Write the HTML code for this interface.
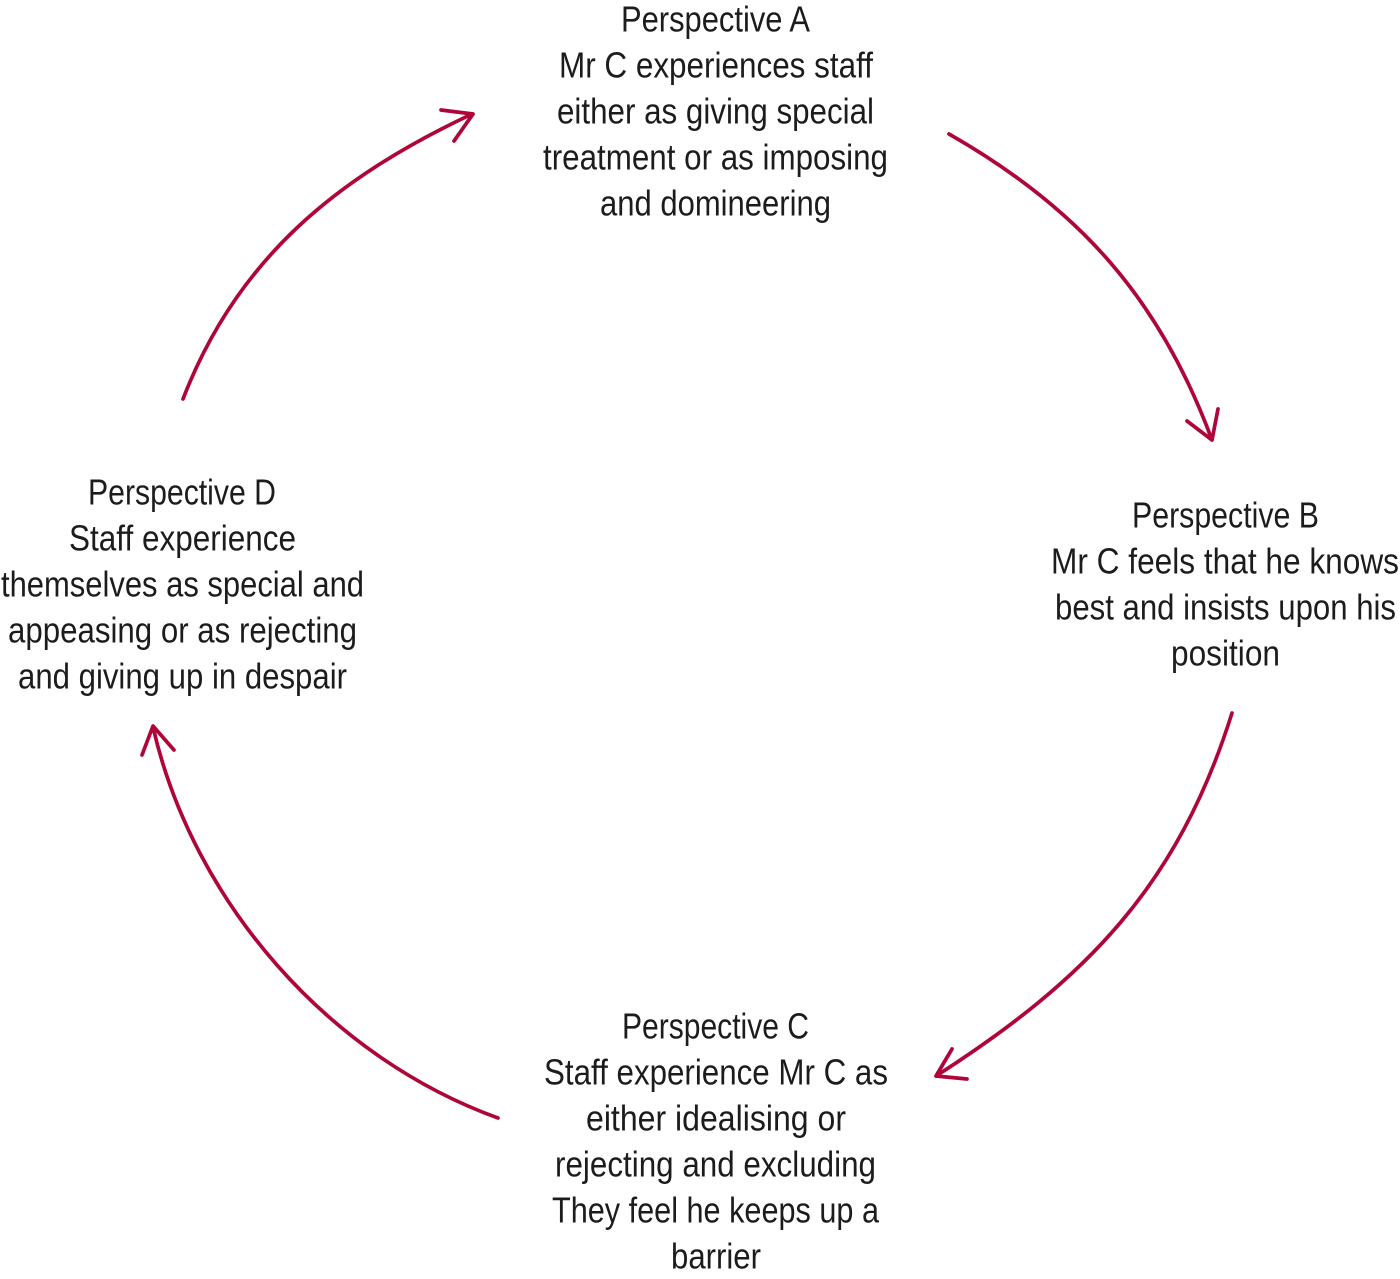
<!DOCTYPE html>
<html><head><meta charset="utf-8"><style>
html,body{margin:0;padding:0;background:#fff;width:1400px;height:1279px;overflow:hidden}
svg{display:block}
text{font-family:"Liberation Sans",sans-serif;font-size:36px;fill:#1c1c1c}
.l{fill:none;stroke:#b00538;stroke-width:3.7;stroke-linecap:round;stroke-linejoin:round}
</style></head><body>
<svg width="1400" height="1279" viewBox="0 0 1400 1279" xmlns="http://www.w3.org/2000/svg">
<text x="621" y="31.5" textLength="189" lengthAdjust="spacingAndGlyphs">Perspective A</text>
<text x="559" y="77.5" textLength="314" lengthAdjust="spacingAndGlyphs">Mr C experiences staff</text>
<text x="557" y="123.5" textLength="317" lengthAdjust="spacingAndGlyphs">either as giving special</text>
<text x="543" y="169.5" textLength="345" lengthAdjust="spacingAndGlyphs">treatment or as imposing</text>
<text x="600" y="215.5" textLength="231" lengthAdjust="spacingAndGlyphs">and domineering</text>

<text x="1132" y="527.5" textLength="187" lengthAdjust="spacingAndGlyphs">Perspective B</text>
<text x="1051" y="573.5" textLength="348" lengthAdjust="spacingAndGlyphs">Mr C feels that he knows</text>
<text x="1055" y="619.5" textLength="341" lengthAdjust="spacingAndGlyphs">best and insists upon his</text>
<text x="1171" y="665.5" textLength="109" lengthAdjust="spacingAndGlyphs">position</text>

<text x="622" y="1038.5" textLength="187" lengthAdjust="spacingAndGlyphs">Perspective C</text>
<text x="544" y="1084.5" textLength="344" lengthAdjust="spacingAndGlyphs">Staff experience Mr C as</text>
<text x="586" y="1130.5" textLength="260" lengthAdjust="spacingAndGlyphs">either idealising or</text>
<text x="555" y="1176.5" textLength="321" lengthAdjust="spacingAndGlyphs">rejecting and excluding</text>
<text x="552" y="1222.5" textLength="327" lengthAdjust="spacingAndGlyphs">They feel he keeps up a</text>
<text x="671" y="1268.5" textLength="90" lengthAdjust="spacingAndGlyphs">barrier</text>

<text x="88" y="504.5" textLength="188" lengthAdjust="spacingAndGlyphs">Perspective D</text>
<text x="69" y="550.5" textLength="227" lengthAdjust="spacingAndGlyphs">Staff experience</text>
<text x="1" y="596.5" textLength="363" lengthAdjust="spacingAndGlyphs">themselves as special and</text>
<text x="8" y="642.5" textLength="349" lengthAdjust="spacingAndGlyphs">appeasing or as rejecting</text>
<text x="18" y="688.5" textLength="329" lengthAdjust="spacingAndGlyphs">and giving up in despair</text>

<path class="l" d="M949 134C1079 208 1160 299 1212 440M1187 421L1212 440L1218 409"/>
<path class="l" d="M1232 713C1178 885 1087 979 936 1076M952 1049L936 1076L967 1079"/>
<path class="l" d="M498 1118C329 1057 193 902 153 727M142 755L153 726L174 750"/>
<path class="l" d="M183 399C237 259 336 178 472 114M441 110L473 114L454 141"/>
</svg>
</body></html>
